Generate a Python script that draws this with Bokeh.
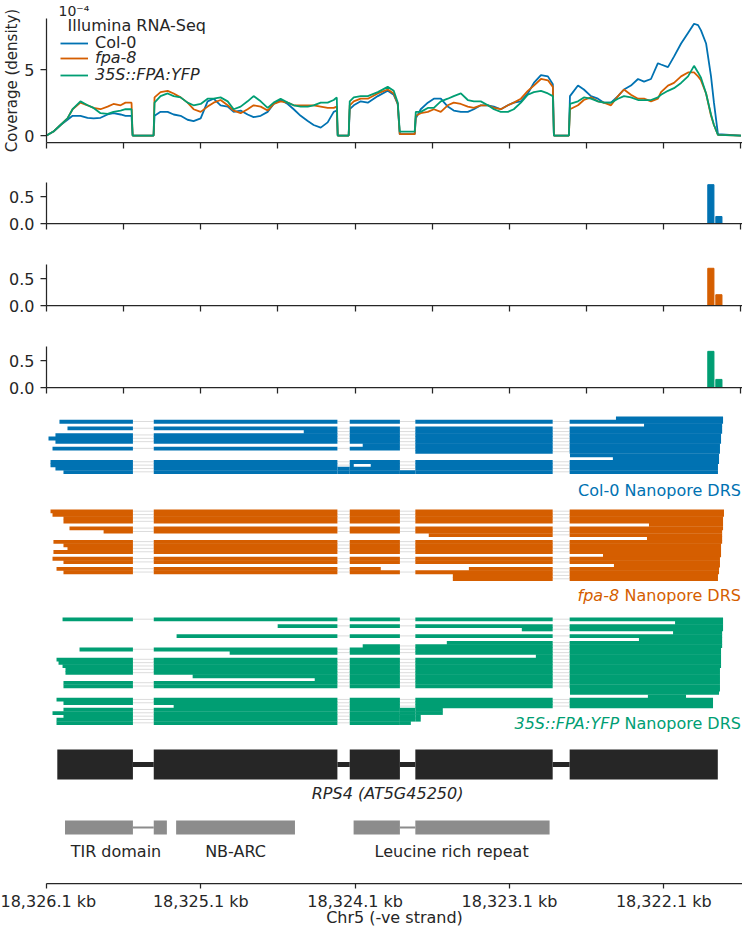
import math
from bokeh.plotting import figure
from bokeh.layouts import column
from bokeh.models import Range1d, FixedTicker, Label, Legend, LegendItem, ColumnDataSource, Title
from bokeh.embed import file_html
from bokeh.resources import INLINE

# ---------------------------------------------------------------- data
# Illumina RNA-Seq coverage (units of 1e-4), genomic positions on Chr5
cov_pos = [18326100, 18326055, 18326009, 18325964, 18325931, 18325880, 18325834, 18325795, 18325750, 18325704,
           18325666, 18325620, 18325588, 18325549, 18325542, 18325406, 18325400, 18325361, 18325315, 18325276,
           18325231, 18325186, 18325147, 18325101, 18325056, 18325017, 18324972, 18324926, 18324887, 18324842,
           18324797, 18324758, 18324712, 18324667, 18324628, 18324583, 18324537, 18324498, 18324453, 18324407,
           18324369, 18324323, 18324278, 18324239, 18324219, 18324213, 18324142, 18324135, 18324109, 18324064,
           18324018, 18323953, 18323889, 18323850, 18323824, 18323811, 18323714, 18323707, 18323675, 18323629,
           18323590, 18323545, 18323500, 18323461, 18323415, 18323370, 18323331, 18323286, 18323240, 18323201,
           18323156, 18323110, 18323072, 18323026, 18322981, 18322942, 18322896, 18322851, 18322819, 18322812,
           18322715, 18322708, 18322656, 18322618, 18322572, 18322527, 18322488, 18322442, 18322397, 18322358,
           18322313, 18322267, 18322228, 18322183, 18322138, 18322118, 18322073, 18322034, 18321988, 18321943,
           18321904, 18321878, 18321859, 18321826, 18321794, 18321775, 18321749, 18321600]
cov_col0 = [0, 0.3, 0.8, 1.2, 1.5, 1.5, 1.35, 1.3, 1.35, 1.6,
            1.7, 1.6, 1.5, 1.5, 0, 0, 1.5, 1.8, 1.8, 1.6,
            1.5, 1.2, 1.1, 1.3, 2.6, 2.8, 2.3, 2.2, 1.8, 1.9,
            1.6, 1.4, 1.5, 1.8, 2.4, 2.7, 2.4, 2.0, 1.5, 1.1,
            0.8, 0.6, 1.0, 1.8, 1.9, 0, 0, 2.0, 2.3, 2.6,
            2.5, 3.0, 3.4, 3.1, 2.4, 0.1, 0.1, 1.3, 2.0, 2.5,
            2.8, 2.8, 2.2, 1.9, 1.8, 1.8, 2.0, 2.3, 2.3, 2.2,
            2.0, 2.3, 2.5, 2.6, 3.2, 4.0, 4.6, 4.5, 3.9, 0,
            0, 3.0, 3.8, 3.5, 3.0, 2.8, 2.5, 2.5, 3.0, 3.5,
            3.8, 4.3, 4.1, 4.3, 5.5, 5.4, 5.2, 6.0, 7.0, 7.8,
            8.5, 8.4, 8.0, 7.0, 4.5, 2.5, 0.1, 0]
cov_fpa8 = [0, 0.3, 0.8, 1.3, 2.0, 2.5, 2.3, 2.1, 2.0, 2.2,
            2.4, 2.3, 2.5, 2.5, 0, 0, 2.9, 3.3, 3.4, 3.2,
            2.9, 2.5, 2.0, 1.8, 2.2, 2.5, 2.7, 2.3, 1.9, 1.7,
            2.0, 2.3, 2.2, 1.9, 2.4, 2.6, 2.5, 2.3, 2.3, 2.3,
            2.3, 2.2, 2.1, 2.1, 2.2, 0, 0, 2.3, 2.6, 2.8,
            2.8, 3.2, 3.5, 3.2, 2.4, 0.1, 0.1, 1.5, 1.7, 1.8,
            2.0, 1.8, 2.3, 2.5, 2.4, 2.2, 2.1, 2.3, 2.3, 2.1,
            2.0, 2.3, 2.5, 2.8, 3.4, 3.8, 4.3, 4.2, 3.7, 0,
            0, 2.0, 2.3, 2.7, 2.9, 2.6, 2.5, 2.3, 3.0, 3.5,
            3.1, 2.8, 2.8, 2.6, 2.8, 3.3, 3.8, 4.0, 4.5, 4.8,
            4.8, 4.5, 4.2, 3.2, 1.5, 0.8, 0.05, 0]
cov_35s = [0, 0.3, 0.8, 1.3, 2.0, 2.6, 2.3, 2.1, 1.7, 1.65,
           1.8, 1.9, 2.0, 2.0, 0, 0, 2.5, 3.0, 3.2, 3.0,
           2.9, 2.5, 2.3, 2.4, 2.8, 2.8, 2.9, 2.6, 2.0, 2.2,
           2.6, 3.0, 2.6, 2.1, 2.5, 2.8, 2.5, 2.3, 2.2, 2.2,
           2.3, 2.5, 2.5, 2.7, 2.9, 0, 0, 2.6, 2.9, 3.0,
           3.0, 3.3, 3.7, 3.4, 2.5, 0.3, 0.3, 1.8, 1.8, 2.1,
           2.1, 2.6, 2.8, 3.0, 3.2, 2.7, 2.6, 2.6, 2.3, 2.0,
           1.8, 1.8, 2.0, 2.5, 3.1, 3.3, 3.4, 3.2, 3.0, 0,
           0, 2.4, 2.6, 2.9, 2.8, 2.6, 2.5, 2.5, 2.8, 3.0,
           2.9, 2.7, 2.7, 2.7, 2.9, 3.1, 3.4, 3.6, 4.0, 4.5,
           5.3, 4.8, 4.4, 3.2, 1.6, 0.8, 0.05, 0]
cov_names = ["Col-0", "fpa-8", "35S::FPA:YFP"]

# Helicos DRS 3' end density
helicos_pos = [18321795, 18321743]
helicos_col0 = [0.72, 0.13]
helicos_fpa8 = [0.69, 0.20]
helicos_35s = [0.67, 0.15]

# Gene model RPS4 (AT5G45250), -ve strand: exon 5' (high) and 3' (low) coordinates
exon_hi = [18326030, 18325405, 18324135, 18323710, 18322710]
exon_lo = [18325540, 18324215, 18323810, 18322820, 18321750]
gene_name = "RPS4 (AT5G45250)"

# Protein domains (blocks of genomic coordinates)
domain_names = ["TIR domain", "NB-ARC", "Leucine rich repeat"]
domain_hi = [[18325980, 18325405], [18325260], [18324110, 18323710]]
domain_lo = [[18325540, 18325320], [18324490], [18323810, 18322840]]

# Nanopore DRS reads: row, 5' end, 3' end; retained introns as (row, intron index)
col0_rows = [0, 1, 2, 3, 4, 5, 6, 7, 8, 9, 10, 11, 12, 13, 14, 14, 15, 16]
col0_start = [18322410, 18326016, 18322228, 18325964, 18324433, 18326042, 18326087, 18326042, 18324051,
              18326061, 18323714, 18322708, 18322430, 18326074, 18326074, 18323999, 18326042, 18325990]
col0_end = [18321716, 18321716, 18321722, 18321722, 18321722, 18321729, 18321729, 18321729, 18321736,
            18321736, 18321736, 18321742, 18321742, 18321742, 18324109, 18321749, 18321749, 18321749]
col0_retained = [(15, 1), (16, 1), (16, 2)]

fpa8_rows = [0, 1, 2, 3, 4, 5, 6, 7, 8, 9, 10, 11, 12, 13, 14, 15, 16, 17, 17, 18, 19, 20]
fpa8_start = [18326074, 18326061, 18325990, 18325990, 18322196, 18325951, 18325730, 18323623, 18322209,
              18326055, 18325990, 18325964, 18326055, 18322494, 18326061, 18325990, 18322423, 18326035,
              18323363, 18325990, 18323467, 18323467]
fpa8_end = [18321710, 18321710, 18321716, 18321716, 18321716, 18321716, 18321722, 18321722, 18321722,
            18321722, 18321729, 18321729, 18321729, 18321729, 18321736, 18321736, 18321736, 18323934,
            18321742, 18321742, 18321749, 18321749]
fpa8_retained = []

fpa35s_rows = list(range(32))
fpa35s_start = [18325996, 18322027, 18324602, 18323020, 18322040, 18325257, 18322261, 18323506, 18324051,
                18325886, 18324913, 18322929, 18326035, 18326022, 18325996, 18325977, 18325977, 18325153,
                18324362, 18325990, 18325990, 18322708, 18322708, 18322203, 18326035, 18325990, 18325276,
                18325990, 18326061, 18325990, 18326035, 18326035]
fpa35s_end = [18321716, 18321716, 18321716, 18321716, 18321722, 18321722, 18321722, 18321722, 18321722,
              18321729, 18321729, 18321729, 18321729, 18321729, 18321729, 18321736, 18321736, 18321736,
              18321736, 18321736, 18321736, 18321736, 18321742, 18321956, 18321781, 18321781, 18321781,
              18323532, 18323532, 18323675, 18323675, 18323739]
fpa35s_retained = [(27, 2), (28, 2), (29, 2), (30, 2), (31, 2)]

x_ticks_minor = list(range(18326100, 18321599, -500))
x_ticks_major = list(range(18326100, 18322099, -1000))

# ---------------------------------------------------------------- style
FONT = "DejaVu Sans"
TXT = "#262626"
BLUE, ORANGE, GREEN = "#0072B2", "#D55E00", "#009E73"
INTRON_GREY = "#dcdcdc"
W = 742
LEFT = 46
XR = (18326100, 18321590)
FS = "16px"

# DejaVu Sans advance widths (1/2048 em) for label composition
ADV = {" ": 651, "H": 1540, "e": 1260, "l": 569, "i": 569, "c": 1126, "o": 1253, "s": 1067,
       "D": 1577, "R": 1423, "S": 1300, "N": 1532, "a": 1255, "n": 1298, "p": 1300, "r": 842}


def text_w(s, size=16):
    return sum(ADV.get(ch, 1300) for ch in s) / 2048.0 * size


def make_fig(height, top, bottom, y_range):
    p = figure(width=W, height=height, x_range=Range1d(*XR), y_range=y_range,
               output_backend="svg", toolbar_location=None,
               min_border_left=LEFT, min_border_right=0,
               min_border_top=top, min_border_bottom=bottom)
    p.outline_line_color = None
    p.xgrid.visible = False
    p.ygrid.visible = False
    for ax in (p.xaxis, p.yaxis):
        ax.axis_line_color = TXT
        ax.axis_line_width = 1.25
        ax.major_tick_line_color = TXT
        ax.major_tick_line_width = 1.25
        ax.major_tick_in = 0
        ax.major_tick_out = 6
        ax.minor_tick_line_color = None
        ax.major_label_text_font = FONT
        ax.major_label_text_font_size = FS
        ax.major_label_text_color = TXT
        ax.major_label_standoff = 6
        ax.axis_label_text_font = FONT
        ax.axis_label_text_font_size = FS
        ax.axis_label_text_font_style = "normal"
        ax.axis_label_text_color = TXT
    return p


def hide_x_labels(p):
    p.xaxis.ticker = FixedTicker(ticks=x_ticks_minor)
    p.xaxis.major_label_text_color = None
    p.xaxis.major_label_standoff = 0


def two_part_label(p, x, y, italic_part, normal_part, color, y_offset):
    p.add_layout(Label(x=x, y=y, text=normal_part, text_font=FONT, text_font_size=FS,
                       text_color=color, text_align="right", text_baseline="middle",
                       y_offset=y_offset))
    if italic_part:
        p.add_layout(Label(x=x, y=y, text=italic_part, text_font=FONT, text_font_size=FS,
                           text_font_style="italic", text_color=color, text_align="right",
                           text_baseline="middle", y_offset=y_offset,
                           x_offset=-(text_w(normal_part) + text_w(" "))))


# ---------------------------------------------------------------- coverage panel
Y1 = (-0.53, 8.9)
f1 = make_fig(152, 18, 10, Range1d(*Y1))
hide_x_labels(f1)
f1.yaxis.ticker = FixedTicker(ticks=[0, 5])
f1.yaxis.axis_label = "Coverage (density)"
f1.yaxis.axis_label_standoff = 0
f1.yaxis.axis_label_text_font_size = "15px"
f1.title = Title(text="10\u207b\u2074", align="left", offset=12, standoff=0, text_font=FONT,
                 text_font_size="14px", text_font_style="normal", text_color=TXT)
r_c = f1.line(cov_pos, cov_col0, color=BLUE, line_width=1.8)
r_f = f1.line(cov_pos, cov_fpa8, color=ORANGE, line_width=1.8)
r_g = f1.line(cov_pos, cov_35s, color=GREEN, line_width=1.8)

leg_kw = dict(padding=0, margin=0, spacing=0, label_height=16, glyph_height=16, glyph_width=28,
              label_standoff=7, background_fill_alpha=0, border_line_alpha=0,
              label_text_font=FONT, label_text_font_size=FS, label_text_color=TXT)
for name, rend, loc, style in [(cov_names[0], r_c, (14, 90), "normal"),
                               (cov_names[1], r_f, (14, 75), "italic"),
                               (cov_names[2], r_g, (14, 58), "italic")]:
    f1.add_layout(Legend(items=[LegendItem(label=name, renderers=[rend])], location=loc,
                         label_text_font_style=style, **leg_kw))
f1.add_layout(Label(x=XR[0], y=Y1[1], text="Illumina RNA-Seq", text_font=FONT, text_font_size=FS,
                    text_color=TXT, text_baseline="middle", x_offset=21, y_offset=-7))

# ---------------------------------------------------------------- Helicos panels
helicos_figs = []
for vals, color, ital, norm in [(helicos_col0, BLUE, "", "Col-0 Helicos DRS"),
                                (helicos_fpa8, ORANGE, "fpa-8", "Helicos DRS"),
                                (helicos_35s, GREEN, "35S::FPA:YFP", "Helicos DRS")]:
    YH = (0, 0.76)
    p = make_fig(82, 30, 11, Range1d(*YH))
    hide_x_labels(p)
    p.yaxis.ticker = FixedTicker(ticks=[0, 0.5])
    p.yaxis.major_label_overrides = {0: "0.0", 0.5: "0.5"}
    p.vbar(x=helicos_pos, top=vals, width=40, color=color)
    two_part_label(p, 18321600, YH[1], ital, norm, color, 10)
    helicos_figs.append(p)

# ---------------------------------------------------------------- reads + gene model panel
F5H = 485
f5 = make_fig(531, 0, 46, Range1d(F5H, 0))
f5.yaxis.visible = False
f5.xaxis.ticker = FixedTicker(ticks=x_ticks_major)
f5.xaxis.major_label_overrides = {t: f"{t / 1000:,.1f} kb" for t in x_ticks_major}
f5.xaxis.major_tick_out = 5
f5.xaxis.major_label_standoff = 3
f5.xaxis.axis_label = "Chr5 (-ve strand)"
f5.xaxis.axis_label_standoff = -6

read_hi_bounds = [math.inf] + exon_hi[1:]
read_lo_bounds = exon_lo[:-1] + [-math.inf]


def draw_reads(p, rows, starts, ends, retained, color, top, rh):
    q = dict(left=[], right=[], top=[], bottom=[])
    s = dict(x0=[], x1=[], y0=[], y1=[])
    ret = set(retained)
    for r, hi, lo in zip(rows, starts, ends):
        y0 = top + r * rh
        y1 = y0 + rh
        for ehi, elo in zip(read_hi_bounds, read_lo_bounds):
            a, b = min(hi, ehi), max(lo, elo)
            if a > b:
                q["left"].append(a); q["right"].append(b)
                q["top"].append(y0); q["bottom"].append(y1 + 0.45)
        for k in range(len(exon_hi) - 1):
            ihi, ilo = exon_lo[k], exon_hi[k + 1]
            a, b = min(hi, ihi), max(lo, ilo)
            if a <= b:
                continue
            if (r, k) in ret:
                q["left"].append(a); q["right"].append(b)
                q["top"].append(y0); q["bottom"].append(y1 + 0.45)
            elif hi >= ihi and lo <= ilo:
                s["x0"].append(ihi); s["x1"].append(ilo)
                s["y0"].append(y0 + rh / 2); s["y1"].append(y0 + rh / 2)
    p.segment(source=ColumnDataSource(s), x0="x0", x1="x1", y0="y0", y1="y1",
              line_color=INTRON_GREY, line_width=1)
    p.quad(source=ColumnDataSource(q), left="left", right="right", top="top", bottom="bottom",
           fill_color=color, line_color=None)


draw_reads(f5, col0_rows, col0_start, col0_end, col0_retained, BLUE, 18, 57 / 17)
draw_reads(f5, fpa8_rows, fpa8_start, fpa8_end, fpa8_retained, ORANGE, 111, 71 / 21)
draw_reads(f5, fpa35s_rows, fpa35s_start, fpa35s_end, fpa35s_retained, GREEN, 219, 107 / 32)

XLAB = 18321600
two_part_label(f5, XLAB, 92, "", "Col-0 Nanopore DRS", BLUE, 0)
two_part_label(f5, XLAB, 197, "fpa-8", "Nanopore DRS", ORANGE, 0)
two_part_label(f5, XLAB, 325, "35S::FPA:YFP", "Nanopore DRS", GREEN, 0)

# gene model
GENE_C = "#262626"
f5.segment(x0=exon_lo[:-1], x1=exon_hi[1:], y0=366, y1=366, line_color=GENE_C, line_width=5)
f5.quad(left=exon_hi, right=exon_lo, top=351, bottom=381, fill_color=GENE_C, line_color=None)
f5.add_layout(Label(x=(exon_hi[0] + exon_lo[-1]) / 2, y=395, text=gene_name, text_font=FONT,
                    text_font_size=FS, text_font_style="italic", text_color=TXT,
                    text_align="center", text_baseline="middle"))

# domains
DOM_C = "#8c8c8c"
for name, his, los in zip(domain_names, domain_hi, domain_lo):
    if len(his) > 1:
        f5.segment(x0=los[:-1], x1=his[1:], y0=429, y1=429, line_color=DOM_C, line_width=2)
    f5.quad(left=his, right=los, top=422, bottom=436, fill_color=DOM_C, line_color=None)
    f5.add_layout(Label(x=(his[0] + los[-1]) / 2, y=453, text=name, text_font=FONT,
                        text_font_size=FS, text_color=TXT, text_align="center",
                        text_baseline="middle"))

layout = column(f1, *helicos_figs, f5, spacing=0)
open("out.html", "w").write(file_html(layout, INLINE))
